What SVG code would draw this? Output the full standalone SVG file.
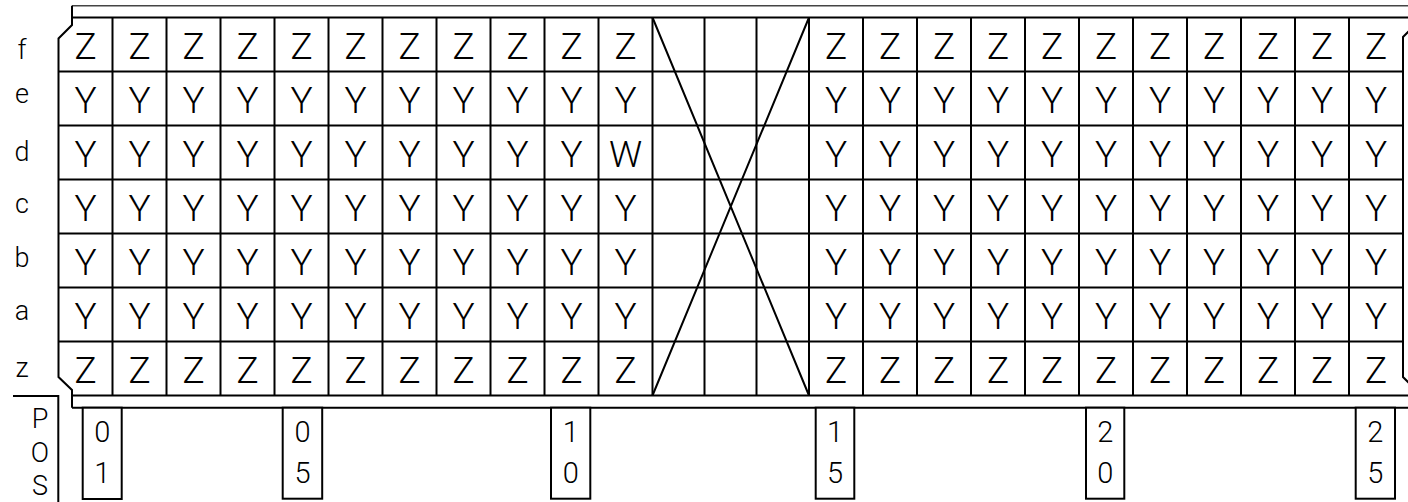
<svg xmlns="http://www.w3.org/2000/svg" width="1408" height="502" viewBox="0 0 1408 502">
<style>
.ln{fill:none;stroke:#000;stroke-width:2}
.thin{fill:none;stroke:#444;stroke-width:1.5}
.box{fill:#fff;stroke:#000;stroke-width:2}
.c{font-family:Roboto,"Liberation Sans",sans-serif;font-weight:300;font-size:37px;text-anchor:middle;fill:#000}
.r{font-family:Roboto,"Liberation Sans",sans-serif;font-weight:300;font-size:27px;text-anchor:middle;fill:#000}
.p{font-family:Roboto,"Liberation Sans",sans-serif;font-weight:300;font-size:27px;text-anchor:middle;fill:#000}
.d{font-family:Roboto,"Liberation Sans",sans-serif;font-weight:300;font-size:29px;text-anchor:middle;fill:#000}
</style>
<rect width="1408" height="502" fill="#fff"/>
<g id="frame">
<path class="thin" d="M72,5.7 H1408"/>
<path class="ln" d="M72,5.7 V25 L58.5,38.5 V377 L72,390 V407.7"/>
<path class="ln" d="M1416,24 L1403,37 V377 L1416,390"/>
<path class="ln" d="M72,17.5 H1408 M72,395.5 H1408 M72,407.7 H1408"/>
</g>
<g id="grid">
<path class="ln" d="M58.5,71.5 H1403 M58.5,125.5 H1403 M58.5,179.5 H1403 M58.5,233.5 H1403 M58.5,287.5 H1403 M58.5,341.5 H1403"/>
<path class="ln" d="M112.5,17.5 V395.5 M166.5,17.5 V395.5 M220.5,17.5 V395.5 M274.5,17.5 V395.5 M328.5,17.5 V395.5 M382.5,17.5 V395.5 M436.5,17.5 V395.5 M490.5,17.5 V395.5 M544.5,17.5 V395.5 M598.5,17.5 V395.5 M652.5,17.5 V395.5 M704.5,17.5 V395.5 M756.5,17.5 V395.5 M809,17.5 V395.5 M863,17.5 V395.5 M917,17.5 V395.5 M971,17.5 V395.5 M1025,17.5 V395.5 M1079,17.5 V395.5 M1133,17.5 V395.5 M1187,17.5 V395.5 M1241,17.5 V395.5 M1295,17.5 V395.5 M1349,17.5 V395.5"/>
</g>
<g id="connectors">
<path class="ln" d="M652.5,17.5 L809,395.5 M809,17.5 L652.5,395.5"/>
</g>
<g id="row-labels">
<text class="r" x="22" y="59">f</text>
<text class="r" x="22" y="103">e</text>
<text class="r" x="22" y="161">d</text>
<text class="r" x="22" y="213">c</text>
<text class="r" x="22" y="267">b</text>
<text class="r" x="22" y="320">a</text>
<text class="r" x="22" y="377">z</text>
</g>
<g id="row-f">
<text class="c" x="85.5" y="58.5">Z</text><text class="c" x="139.5" y="58.5">Z</text><text class="c" x="193.5" y="58.5">Z</text><text class="c" x="247.5" y="58.5">Z</text><text class="c" x="301.5" y="58.5">Z</text><text class="c" x="355.5" y="58.5">Z</text><text class="c" x="409.5" y="58.5">Z</text><text class="c" x="463.5" y="58.5">Z</text><text class="c" x="517.5" y="58.5">Z</text><text class="c" x="571.5" y="58.5">Z</text><text class="c" x="625.5" y="58.5">Z</text>
<text class="c" x="836" y="58.5">Z</text><text class="c" x="890" y="58.5">Z</text><text class="c" x="944" y="58.5">Z</text><text class="c" x="998" y="58.5">Z</text><text class="c" x="1052" y="58.5">Z</text><text class="c" x="1106" y="58.5">Z</text><text class="c" x="1160" y="58.5">Z</text><text class="c" x="1214" y="58.5">Z</text><text class="c" x="1268" y="58.5">Z</text><text class="c" x="1322" y="58.5">Z</text><text class="c" x="1376" y="58.5">Z</text>
</g>
<g id="row-e">
<text class="c" x="85.5" y="112.5">Y</text><text class="c" x="139.5" y="112.5">Y</text><text class="c" x="193.5" y="112.5">Y</text><text class="c" x="247.5" y="112.5">Y</text><text class="c" x="301.5" y="112.5">Y</text><text class="c" x="355.5" y="112.5">Y</text><text class="c" x="409.5" y="112.5">Y</text><text class="c" x="463.5" y="112.5">Y</text><text class="c" x="517.5" y="112.5">Y</text><text class="c" x="571.5" y="112.5">Y</text><text class="c" x="625.5" y="112.5">Y</text>
<text class="c" x="836" y="112.5">Y</text><text class="c" x="890" y="112.5">Y</text><text class="c" x="944" y="112.5">Y</text><text class="c" x="998" y="112.5">Y</text><text class="c" x="1052" y="112.5">Y</text><text class="c" x="1106" y="112.5">Y</text><text class="c" x="1160" y="112.5">Y</text><text class="c" x="1214" y="112.5">Y</text><text class="c" x="1268" y="112.5">Y</text><text class="c" x="1322" y="112.5">Y</text><text class="c" x="1376" y="112.5">Y</text>
</g>
<g id="row-d">
<text class="c" x="85.5" y="166.5">Y</text><text class="c" x="139.5" y="166.5">Y</text><text class="c" x="193.5" y="166.5">Y</text><text class="c" x="247.5" y="166.5">Y</text><text class="c" x="301.5" y="166.5">Y</text><text class="c" x="355.5" y="166.5">Y</text><text class="c" x="409.5" y="166.5">Y</text><text class="c" x="463.5" y="166.5">Y</text><text class="c" x="517.5" y="166.5">Y</text><text class="c" x="571.5" y="166.5">Y</text><text class="c" x="625.5" y="166.5">W</text>
<text class="c" x="836" y="166.5">Y</text><text class="c" x="890" y="166.5">Y</text><text class="c" x="944" y="166.5">Y</text><text class="c" x="998" y="166.5">Y</text><text class="c" x="1052" y="166.5">Y</text><text class="c" x="1106" y="166.5">Y</text><text class="c" x="1160" y="166.5">Y</text><text class="c" x="1214" y="166.5">Y</text><text class="c" x="1268" y="166.5">Y</text><text class="c" x="1322" y="166.5">Y</text><text class="c" x="1376" y="166.5">Y</text>
</g>
<g id="row-c">
<text class="c" x="85.5" y="220.5">Y</text><text class="c" x="139.5" y="220.5">Y</text><text class="c" x="193.5" y="220.5">Y</text><text class="c" x="247.5" y="220.5">Y</text><text class="c" x="301.5" y="220.5">Y</text><text class="c" x="355.5" y="220.5">Y</text><text class="c" x="409.5" y="220.5">Y</text><text class="c" x="463.5" y="220.5">Y</text><text class="c" x="517.5" y="220.5">Y</text><text class="c" x="571.5" y="220.5">Y</text><text class="c" x="625.5" y="220.5">Y</text>
<text class="c" x="836" y="220.5">Y</text><text class="c" x="890" y="220.5">Y</text><text class="c" x="944" y="220.5">Y</text><text class="c" x="998" y="220.5">Y</text><text class="c" x="1052" y="220.5">Y</text><text class="c" x="1106" y="220.5">Y</text><text class="c" x="1160" y="220.5">Y</text><text class="c" x="1214" y="220.5">Y</text><text class="c" x="1268" y="220.5">Y</text><text class="c" x="1322" y="220.5">Y</text><text class="c" x="1376" y="220.5">Y</text>
</g>
<g id="row-b">
<text class="c" x="85.5" y="274.5">Y</text><text class="c" x="139.5" y="274.5">Y</text><text class="c" x="193.5" y="274.5">Y</text><text class="c" x="247.5" y="274.5">Y</text><text class="c" x="301.5" y="274.5">Y</text><text class="c" x="355.5" y="274.5">Y</text><text class="c" x="409.5" y="274.5">Y</text><text class="c" x="463.5" y="274.5">Y</text><text class="c" x="517.5" y="274.5">Y</text><text class="c" x="571.5" y="274.5">Y</text><text class="c" x="625.5" y="274.5">Y</text>
<text class="c" x="836" y="274.5">Y</text><text class="c" x="890" y="274.5">Y</text><text class="c" x="944" y="274.5">Y</text><text class="c" x="998" y="274.5">Y</text><text class="c" x="1052" y="274.5">Y</text><text class="c" x="1106" y="274.5">Y</text><text class="c" x="1160" y="274.5">Y</text><text class="c" x="1214" y="274.5">Y</text><text class="c" x="1268" y="274.5">Y</text><text class="c" x="1322" y="274.5">Y</text><text class="c" x="1376" y="274.5">Y</text>
</g>
<g id="row-a">
<text class="c" x="85.5" y="328.5">Y</text><text class="c" x="139.5" y="328.5">Y</text><text class="c" x="193.5" y="328.5">Y</text><text class="c" x="247.5" y="328.5">Y</text><text class="c" x="301.5" y="328.5">Y</text><text class="c" x="355.5" y="328.5">Y</text><text class="c" x="409.5" y="328.5">Y</text><text class="c" x="463.5" y="328.5">Y</text><text class="c" x="517.5" y="328.5">Y</text><text class="c" x="571.5" y="328.5">Y</text><text class="c" x="625.5" y="328.5">Y</text>
<text class="c" x="836" y="328.5">Y</text><text class="c" x="890" y="328.5">Y</text><text class="c" x="944" y="328.5">Y</text><text class="c" x="998" y="328.5">Y</text><text class="c" x="1052" y="328.5">Y</text><text class="c" x="1106" y="328.5">Y</text><text class="c" x="1160" y="328.5">Y</text><text class="c" x="1214" y="328.5">Y</text><text class="c" x="1268" y="328.5">Y</text><text class="c" x="1322" y="328.5">Y</text><text class="c" x="1376" y="328.5">Y</text>
</g>
<g id="row-z">
<text class="c" x="85.5" y="382.5">Z</text><text class="c" x="139.5" y="382.5">Z</text><text class="c" x="193.5" y="382.5">Z</text><text class="c" x="247.5" y="382.5">Z</text><text class="c" x="301.5" y="382.5">Z</text><text class="c" x="355.5" y="382.5">Z</text><text class="c" x="409.5" y="382.5">Z</text><text class="c" x="463.5" y="382.5">Z</text><text class="c" x="517.5" y="382.5">Z</text><text class="c" x="571.5" y="382.5">Z</text><text class="c" x="625.5" y="382.5">Z</text>
<text class="c" x="836" y="382.5">Z</text><text class="c" x="890" y="382.5">Z</text><text class="c" x="944" y="382.5">Z</text><text class="c" x="998" y="382.5">Z</text><text class="c" x="1052" y="382.5">Z</text><text class="c" x="1106" y="382.5">Z</text><text class="c" x="1160" y="382.5">Z</text><text class="c" x="1214" y="382.5">Z</text><text class="c" x="1268" y="382.5">Z</text><text class="c" x="1322" y="382.5">Z</text><text class="c" x="1376" y="382.5">Z</text>
</g>
<g id="pos-label">
<path class="ln" d="M13,396 H58.3 V502"/>
<text class="p" x="40" y="428">P</text>
<text class="p" x="40" y="462">O</text>
<text class="p" x="40" y="495">S</text>
</g>
<g id="pos-01"><rect class="box" x="82.7" y="407.7" width="39" height="91.3"/><text class="d" x="102.2" y="441.5">0</text><text class="d" x="102.2" y="483.3">1</text></g>
<g id="pos-05"><rect class="box" x="282.7" y="407.7" width="39.5" height="91"/><text class="d" x="302.5" y="441.5">0</text><text class="d" x="302.5" y="483.3">5</text></g>
<g id="pos-10"><rect class="box" x="551" y="407.7" width="39.3" height="91"/><text class="d" x="570.7" y="441.5">1</text><text class="d" x="570.7" y="483.3">0</text></g>
<g id="pos-15"><rect class="box" x="815.7" y="407.7" width="38.6" height="91"/><text class="d" x="835" y="441.5">1</text><text class="d" x="835" y="483.3">5</text></g>
<g id="pos-20"><rect class="box" x="1086" y="407.7" width="38.3" height="91"/><text class="d" x="1105.2" y="441.5">2</text><text class="d" x="1105.2" y="483.3">0</text></g>
<g id="pos-25"><rect class="box" x="1355.7" y="407.7" width="39.3" height="91"/><text class="d" x="1375.3" y="441.5">2</text><text class="d" x="1375.3" y="483.3">5</text></g>
</svg>
